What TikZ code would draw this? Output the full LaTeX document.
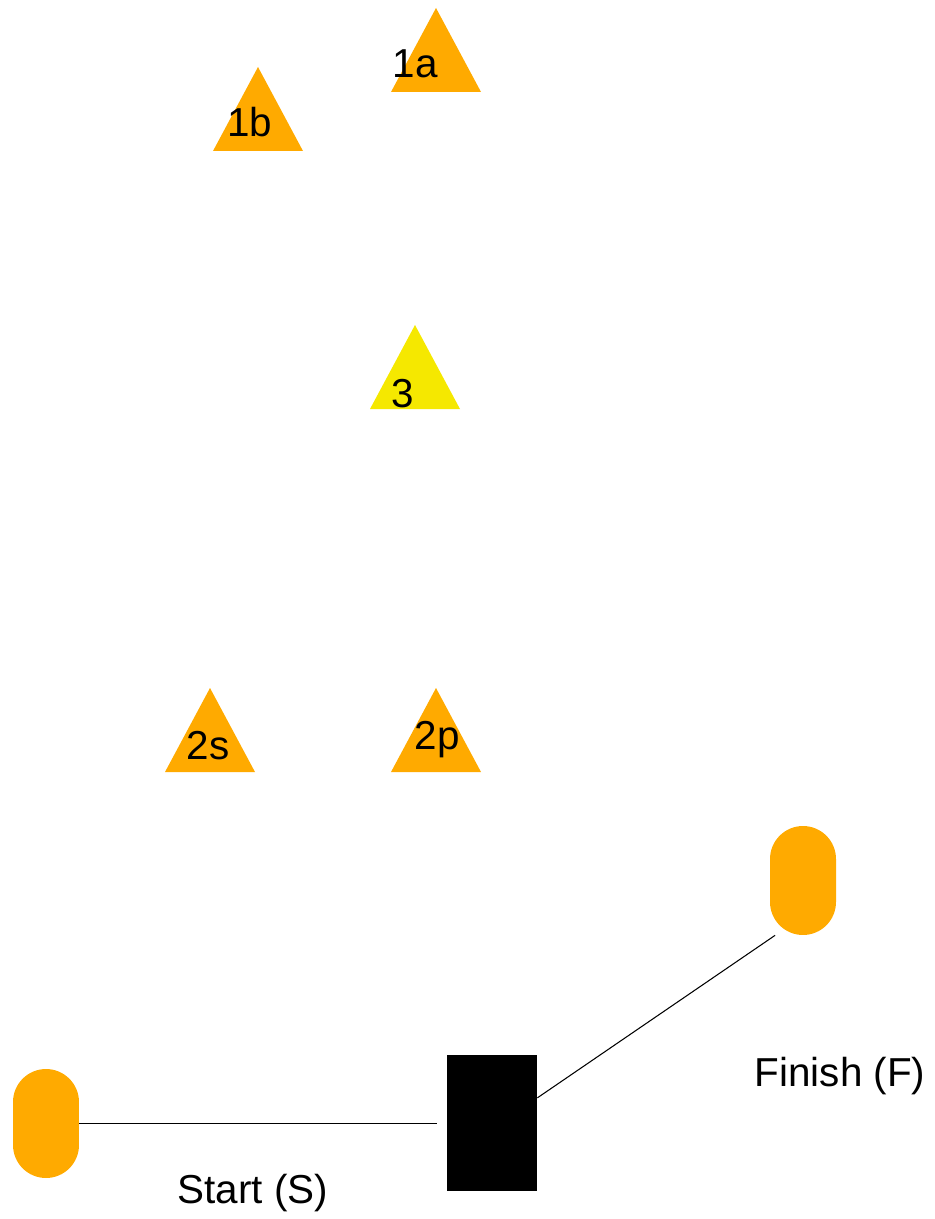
\documentclass[tikz,border=0pt]{standalone}
\usepackage{fontspec}
\setmainfont{Liberation Sans}
\usepackage{tikz}
\usetikzlibrary{positioning}
\definecolor{Cone}{HTML}{FFAA00}
\definecolor{Lemon}{HTML}{F5E800}
\tikzset{
  cone/.style={fill=Cone},
  tag/.style={anchor=base,inner sep=0pt,font=\fontsize{23}{27}\selectfont,text=black},
  pill/.style={
    rectangle,rounded corners=0.66cm,fill=Cone,
    minimum width=1.32cm,minimum height=2.18cm,inner sep=0pt
  },
  block/.style={rectangle,fill=black,minimum width=1.8cm,minimum height=2.72cm,inner sep=0pt},
  wire/.style={draw=black,line width=0.6pt}
}
% triangle cone: #1 apex x, #2 apex y
\newcommand{\conepath}[2]{(#1,#2) -- ++(45,84) -- ++(-90,0) -- cycle}

\begin{document}
\begin{tikzpicture}[x=0.02cm,y=-0.02cm]
  \useasboundingbox (0,0) rectangle (935,1219);

  % cones
  \fill[cone] \conepath{436}{8};
  \fill[cone] \conepath{258}{67};
  \fill[Lemon] \conepath{415}{325};
  \fill[cone] \conepath{210}{688};
  \fill[cone] \conepath{436}{688};

  \node[tag] (one a) at (415,78) {1a};
  \node[tag] (one b) at (250,137) {1b};
  \node[tag] (three) at (403,407) {3};
  \node[tag] (two s) at (208,759) {2s};
  \node[tag] (two p) at (437,749) {2p};

  % start, finish and box
  \node[pill] (start) at (46,1123.5) {};
  \node[pill] (finish) at (803,880.5) {};
  \node[block] (box) at (492,1123) {};

  \draw[wire,shorten >=0.2cm] (start.east) -- (box.west |- start.east);
  \draw[wire] (box.29) -- (finish.243);

  \node[tag] (start label) at (253,1203) {Start (S)};
  \node[tag] (finish label) at (840,1086) {Finish (F)};
\end{tikzpicture}
\end{document}
